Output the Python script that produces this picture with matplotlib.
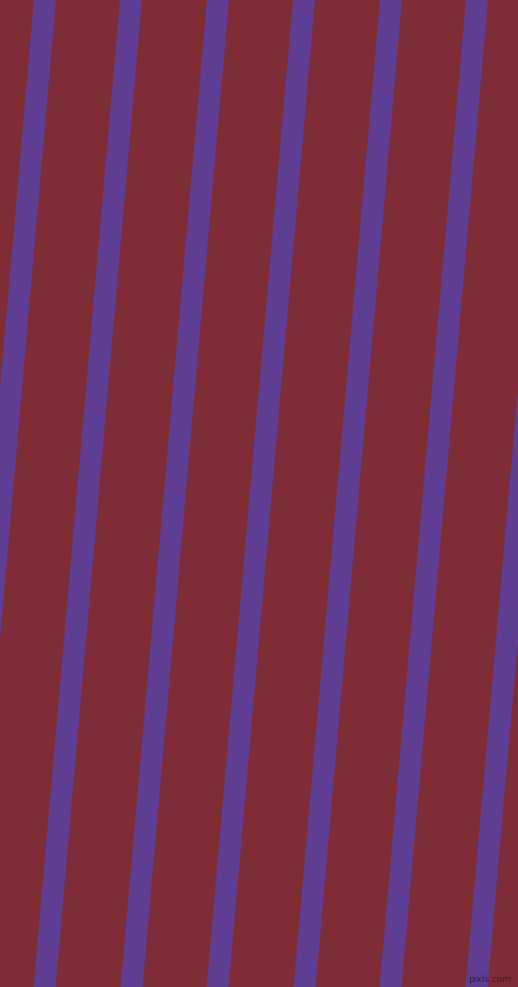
import numpy as np
import matplotlib
matplotlib.use("Agg")
import matplotlib.pyplot as plt

# left edge of each stripe along the top row (px)
stripe_left_top = [34, 120, 207, 293, 380, 466, 552]
# horizontal width of one stripe
stripe_width = 22
# horizontal drift over the whole height (stripes lean to the left going down)
drift = 86.4

W, H = 518, 987
bg_color = "#7e2d37"
stripe_color = "#5e3e92"

fig = plt.figure(figsize=(W / 100, (H + 0.4) / 100), dpi=100)
fig.patch.set_facecolor(bg_color)
ax = fig.add_axes([0, 0, 1, 1])
ax.set_facecolor(bg_color)
ax.set_xlim(0, W)
ax.set_ylim(H, 0)
ax.axis("off")

y = np.array([0, H])
for x0 in stripe_left_top:
    left = x0 - drift * y / H
    ax.fill_betweenx(y, left, left + stripe_width, color=stripe_color, lw=0)

ax.text(511, 984, "pixls.com", color="#2e1418", alpha=0.75, fontsize=6.5,
        ha="right", va="bottom")

fig.savefig("out.png", dpi=100, facecolor=bg_color)
